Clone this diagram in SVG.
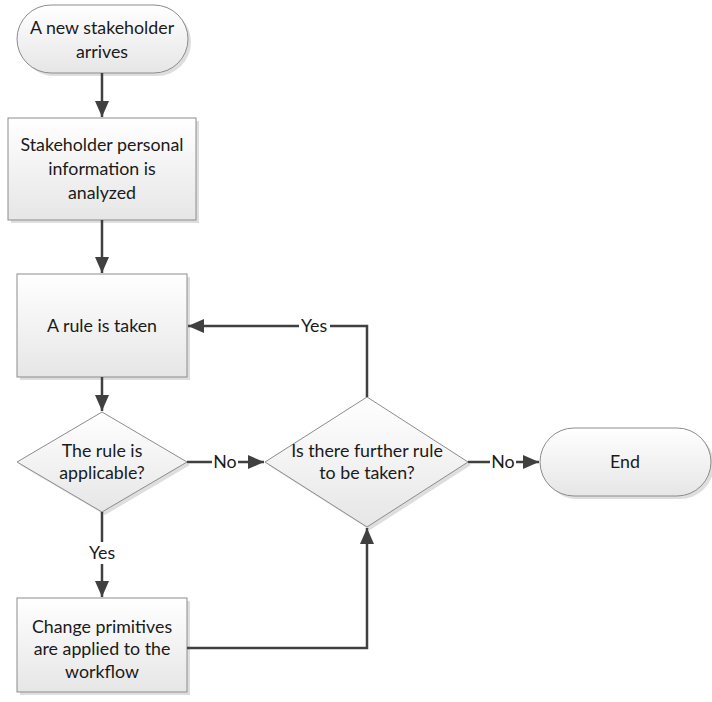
<svg xmlns="http://www.w3.org/2000/svg" width="712" height="702" viewBox="0 0 712 702">
  <style>
    .shape { fill: url(#fillGrad); stroke: #8c8c8c; stroke-width: 1; }
    .shadow { fill: #c8c8c8; opacity: 0.6; }
    .txt { font-family: Lato, "Open Sans", "Liberation Sans", sans-serif; font-size: 17.8px; fill: #1a1a1a; text-anchor: middle; }
    .lbl { font-family: Lato, "Open Sans", "Liberation Sans", sans-serif; font-size: 17.8px; fill: #1a1a1a; text-anchor: middle; }
    .conn { fill: none; stroke: #404040; stroke-width: 2.5; }
    .lblbg { fill: #ffffff; }
  </style>
  <defs>
    <linearGradient id="fillGrad" x1="0" y1="0" x2="0" y2="1">
      <stop offset="0" stop-color="#ffffff"/>
      <stop offset="1" stop-color="#e6e6e6"/>
    </linearGradient>
    <marker id="arrow" markerUnits="userSpaceOnUse" markerWidth="16" markerHeight="16" viewBox="0 0 16 16" refX="16" refY="8" orient="auto">
      <path d="M0,1 L16,8 L0,15 Z" fill="#404040"/>
    </marker>
  </defs>
  <rect width="712" height="702" fill="#ffffff"/>

  <g id="start">
    <rect class="shadow" x="20" y="8" width="171" height="68" rx="34"/>
    <rect class="shape" x="17" y="5" width="171" height="68" rx="34"/>
    <text class="txt" x="102" y="34">A new stakeholder</text>
    <text class="txt" x="102" y="58">arrives</text>
  </g>

  <g id="analyze">
    <rect class="shadow" x="11" y="121" width="188" height="102"/>
    <rect class="shape" x="8" y="118" width="188" height="102"/>
    <text class="txt" x="102" y="151">Stakeholder personal</text>
    <text class="txt" x="102" y="175">information is</text>
    <text class="txt" x="102" y="199">analyzed</text>
  </g>

  <g id="take-rule">
    <rect class="shadow" x="20" y="277" width="170" height="103"/>
    <rect class="shape" x="17" y="274" width="170" height="103"/>
    <text class="txt" x="102" y="332">A rule is taken</text>
  </g>

  <g id="applicable">
    <polygon class="shadow" points="105,415 190,465 105,515 20,465"/>
    <polygon class="shape" points="102,412 187,462 102,512 17,462"/>
    <text class="txt" x="102" y="457">The rule is</text>
    <text class="txt" x="102" y="479">applicable?</text>
  </g>

  <g id="further-rule">
    <polygon class="shadow" points="370,400 471,465 370,530 268,465"/>
    <polygon class="shape" points="367,397 468,462 367,527 265,462"/>
    <text class="txt" x="367" y="457">Is there further rule</text>
    <text class="txt" x="367" y="479">to be taken?</text>
  </g>

  <g id="end">
    <rect class="shadow" x="543" y="431" width="171" height="68" rx="34"/>
    <rect class="shape" x="540" y="428" width="171" height="68" rx="34"/>
    <text class="txt" x="625" y="468">End</text>
  </g>

  <g id="apply-primitives">
    <rect class="shadow" x="20" y="601" width="170" height="94"/>
    <rect class="shape" x="17" y="598" width="170" height="94"/>
    <text class="txt" x="102" y="633">Change primitives</text>
    <text class="txt" x="102" y="655">are applied to the</text>
    <text class="txt" x="102" y="678">workflow</text>
  </g>

  <g id="connectors">
    <path class="conn" d="M102,73 L102,117" marker-end="url(#arrow)"/>
    <path class="conn" d="M102,220 L102,273" marker-end="url(#arrow)"/>
    <path class="conn" d="M102,377 L102,411" marker-end="url(#arrow)"/>
    <path class="conn" d="M187,462 L264,462" marker-end="url(#arrow)"/>
    <path class="conn" d="M468,462 L539,462" marker-end="url(#arrow)"/>
    <path class="conn" d="M367,397 L367,326 L188,326" marker-end="url(#arrow)"/>
    <path class="conn" d="M102,512 L102,597" marker-end="url(#arrow)"/>
    <path class="conn" d="M187,648 L367,648 L367,528" marker-end="url(#arrow)"/>

    <rect class="lblbg" x="212" y="452" width="26" height="20"/>
    <text class="lbl" x="225" y="468">No</text>
    <rect class="lblbg" x="490" y="452" width="26" height="20"/>
    <text class="lbl" x="503" y="468">No</text>
    <rect class="lblbg" x="299" y="316" width="31" height="20"/>
    <text class="lbl" x="314" y="332">Yes</text>
    <rect class="lblbg" x="87" y="542" width="30" height="22"/>
    <text class="lbl" x="102" y="559">Yes</text>
  </g>
</svg>
